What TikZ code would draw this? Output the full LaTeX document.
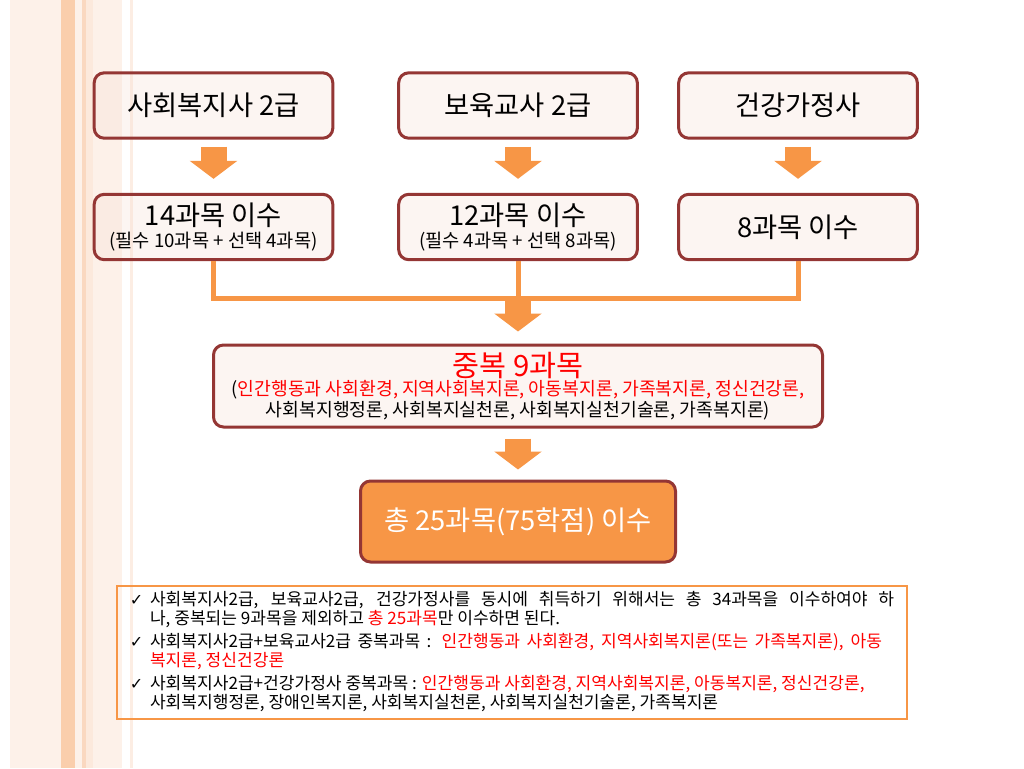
\documentclass[tikz,border=0pt]{standalone}
\usepackage{fontspec}
\setmainfont{Noto Sans CJK KR}
\newfontfamily\notefont{Noto Sans CJK KR}
\newfontfamily\chkfont{DejaVu Sans}
\usetikzlibrary{arrows.meta}
\newcommand{\chk}{{\chkfont\fontsize{12}{12}\selectfont ✓}}

\tikzset{every picture/.style={line width=0.75pt}}
\tikzset{
  certbox/.style={draw={rgb, 255:red, 148; green, 54; blue, 52 }, fill={rgb, 255:red, 246; green, 222; blue, 212 }, fill opacity=0.3, text opacity=1,
    line width=2.25pt, rounded corners=7.5pt, inner sep=0pt, align=center,
    minimum width=179pt, minimum height=49pt, font=\fontsize{20.5}{23}\selectfont},
  overbox/.style={certbox, minimum width=456.75pt, minimum height=61.5pt},
  totalbox/.style={certbox, fill={rgb, 255:red, 247; green, 150; blue, 70 }, fill opacity=1, text=white,
    minimum width=236.25pt, minimum height=60.75pt},
  notebox/.style={draw={rgb, 255:red, 247; green, 150; blue, 70 }, line width=1.1pt,
    inner sep=0pt, minimum width=592.5pt, minimum height=99.75pt},
  blockarrow/.style={draw={rgb, 255:red, 247; green, 150; blue, 70 }, line width=19.5pt,
    -{Triangle[width=35pt,length=13.5pt]}},
  busline/.style={draw={rgb, 255:red, 247; green, 150; blue, 70 }, line width=3.75pt}
}

\begin{document}
\begin{tikzpicture}[x=0.75pt,y=0.75pt,yscale=-1,xscale=1]
\useasboundingbox (0,0) rectangle (1024,768);

%Shape: Rectangle (side stripes)
\fill[fill={rgb, 255:red, 249; green, 220; blue, 200 }, fill opacity=0.4] (10,0) rectangle (122,768);
\fill[fill={rgb, 255:red, 250; green, 200; blue, 162 }, fill opacity=0.85] (61,0) rectangle (75,768);
\fill[fill={rgb, 255:red, 250; green, 205; blue, 175 }, fill opacity=0.7] (82,0) rectangle (86,768);
\fill[fill={rgb, 255:red, 250; green, 215; blue, 190 }, fill opacity=0.3] (86,0) rectangle (93,768);
\fill[fill={rgb, 255:red, 250; green, 220; blue, 200 }, fill opacity=0.5] (130,0) rectangle (133,768);

%Shape: Rounded Rect (top row)
\node[certbox] (soc) at (213.5,105.5) {사회복지사 2급};
\node[certbox] (care) at (518,105.5) {보육교사 2급};
\node[certbox] (fam) at (798,105.5) {건강가정사};

%Shape: Rounded Rect (second row)
\node[certbox] (soc14) at (213.5,227) {14과목 이수\\[-6pt]{\fontsize{14}{15}\selectfont (필수 10과목 + 선택 4과목)}};
\node[certbox] (care12) at (518,227) {12과목 이수\\[-6pt]{\fontsize{14}{15}\selectfont (필수 4과목 + 선택 8과목)}};
\node[certbox] (fam8) at (798,227) {8과목 이수};

%Shape: Rounded Rect (overlap)
\node[overbox] (over) at (518,386) {{\color{red}\fontsize{22}{23}\selectfont 중복 9과목}\\[-9pt]
  {\fontsize{13.7}{15}\selectfont (\textcolor{red}{인간행동과 사회환경, 지역사회복지론, 아동복지론, 가족복지론, 정신건강론,}}\\[-7pt]
  {\fontsize{13.7}{15}\selectfont 사회복지행정론, 사회복지실천론, 사회복지실천기술론, 가족복지론)}};

%Shape: Rounded Rect (total)
\node[totalbox] (total) at (518,521.5) {총 25과목(75학점) 이수};

% Text Node
\node[notebox] (note) at (512,652.5) {\notefont\fontsize{12.8}{13.1}\selectfont
  \begin{tabular}{@{}l@{\hspace{5pt}}l@{}}
  \chk & \makebox[558pt][s]{사회복지사2급, 보육교사2급, 건강가정사를 동시에 취득하기 위해서는 총 34과목을 이수하여야 하}\\
       & 나, 중복되는 9과목을 제외하고 \textcolor{red}{총 25과목}만 이수하면 된다.\\[2.3pt]
  \chk & \makebox[549pt][s]{사회복지사2급+보육교사2급 중복과목 : \textcolor{red}{인간행동과 사회환경, 지역사회복지론(또는 가족복지론), 아동}}\\
       & \textcolor{red}{복지론, 정신건강론}\\[2.3pt]
  \chk & 사회복지사2급+건강가정사 중복과목 : \textcolor{red}{인간행동과 사회환경, 지역사회복지론, 아동복지론, 정신건강론,}\\
       & 사회복지행정론, 장애인복지론, 사회복지실천론, 사회복지실천기술론, 가족복지론
  \end{tabular}};

%Block Arrows
\draw[blockarrow, shorten <=5.25pt, shorten >=10.5pt] (soc) -- (soc14);
\draw[blockarrow, shorten <=5.25pt, shorten >=10.5pt] (care) -- (care12);
\draw[blockarrow, shorten <=5.25pt, shorten >=10.5pt] (fam) -- (fam8);

%Straight Lines (bus)
\coordinate (busY) at (0,298);
\draw[busline] (soc14.south) |- (fam8.south |- busY) -- (fam8.south);
\draw[busline] (care12.south) -- (care12.south |- busY);
\draw[blockarrow, shorten >=9pt] (care12.south |- busY) -- (over.north);
\draw[blockarrow, shorten <=7.5pt, shorten >=7.5pt] (over.south) -- (total.north);

\end{tikzpicture}
\end{document}
